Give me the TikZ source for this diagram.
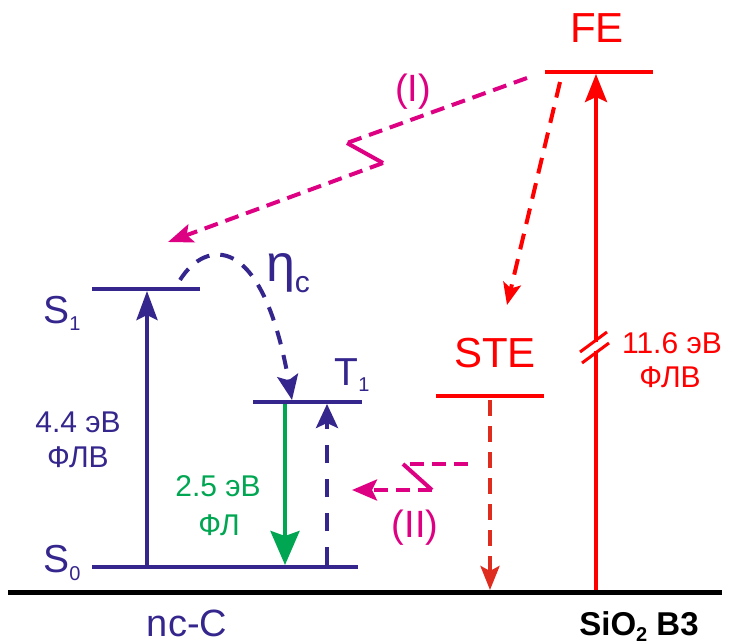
\documentclass[tikz,border=0pt]{standalone}
\usepackage{fontspec}
\setmainfont{Liberation Sans}
\usetikzlibrary{arrows.meta}
\definecolor{lvblue}{RGB}{52,38,140}
\definecolor{lvred}{RGB}{255,0,0}
\definecolor{stered}{RGB}{222,44,30}
\definecolor{trmag}{RGB}{222,0,130}
\definecolor{flgreen}{RGB}{0,166,81}
\newcommand{\fsz}[1]{\fontsize{#1}{#1}\selectfont}
\newcommand{\lvsub}[2]{\raisebox{-#2pt}{\fsz{20}#1}}
\tikzset{
  lvl/.style={line width=4.5pt},
  tr/.style={line width=4pt},
  tip/.style 2 args={-{Stealth[length=#1pt,width=#2pt,inset=5pt]}},
  dsh/.style={dash pattern=on 14pt off 8pt},
  txt/.style={inner sep=0pt, anchor=base},
}

\begin{document}
\begin{tikzpicture}[x=1pt,y=-1pt]
  \useasboundingbox (0,0) rectangle (733,644);

  % levels
  \coordinate (FEl) at (545,72);  \coordinate (FEr) at (653,72);
  \coordinate (STEl) at (436,396); \coordinate (STEr) at (544,396);
  \coordinate (S1l) at (92,289);  \coordinate (S1r) at (200,289);
  \coordinate (T1l) at (253,402); \coordinate (T1r) at (362,402);
  \coordinate (S0l) at (92,567);  \coordinate (S0r) at (358,567);
  \coordinate (gl) at (8,592);    \coordinate (gr) at (722,592);

  \draw[lvl,lvred] (FEl) -- (FEr);
  \draw[lvl,lvred] (STEl) -- (STEr);
  \draw[lvl,lvblue] (S1l) -- (S1r);
  \draw[lvl,lvblue] (T1l) -- (T1r);
  \draw[lvl,lvblue] (S0l) -- (S0r);
  \draw[line width=5pt] (gl) -- (gr);

  % labels
  \node[txt,lvred] (fe) at (597,43) {\fsz{42}FE};
  \node[txt,lvred] (ste) at (495,367) {\fsz{42}STE};
  \node[txt,lvred] (e116) at (672,353) {\fsz{30}11.6 эВ};
  \node[txt,lvred] (flv2) at (670,387) {\fsz{30}ФЛВ};
  \node[txt,lvblue] (s1) at (62,323) {\fsz{39}S\lvsub{1}{7}};
  \node[txt,lvblue] (s0) at (62,572) {\fsz{39}S\lvsub{0}{8}};
  \node[txt,lvblue] (t1) at (352,385) {\fsz{39}T\lvsub{1}{6}};
  \node[txt,lvblue] (e44) at (78,432) {\fsz{30}4.4 эВ};
  \node[txt,lvblue] (flv1) at (78,467) {\fsz{30}ФЛВ};
  \node[txt,flgreen] (e25) at (218,496) {\fsz{30}2.5 эВ};
  \node[txt,flgreen] (fl) at (219,535) {\fsz{30}ФЛ};
  \node[txt,trmag] (pI) at (413,102) {\fsz{38}(I)};
  \node[txt,trmag] (pII) at (415,537) {\fsz{38}(II)};
  \node[txt,lvblue] (eta) at (288,281) {\fsz{52}η\raisebox{-11pt}{\fsz{30}c}};
  \node[txt,lvblue] (ncc) at (187,636) {\fsz{38}nc-C};
  \node[txt] (sio) at (639,635) {\fsz{33}\bfseries SiO\lvsub{2}{6} B3};

  % transitions
  \coordinate (a1) at (147,567); \coordinate (b1) at (147,291);
  \draw[tr,lvblue,tip={29}{21}] (a1) -- (b1);
  \coordinate (a2) at (285,404); \coordinate (b2) at (285,565);
  \draw[tr,flgreen,tip={34}{29}] (a2) -- (b2);
  \coordinate (a3) at (327,565); \coordinate (b3) at (327,404);
  \draw[tr,lvblue,dash pattern=on 18pt off 16pt,tip={24}{22}] (a3) -- (b3);
  \coordinate (a4) at (180,280); \coordinate (b4) at (292,400);
  \draw[tr,lvblue,dash pattern=on 14pt off 11pt,tip={25}{21}] (a4) .. controls (205,240) and (262,230) .. (b4);

  \coordinate (a5) at (596,590); \coordinate (b5) at (596,74);
  \draw[tr,lvred,tip={28}{22}] (a5) -- (b5);
  \draw[white,line width=6pt] (596,342) -- (596,351);
  \draw[lvred,line width=3pt] (580,352) -- (607,332);
  \draw[lvred,line width=3pt] (582,363) -- (609,343);

  \coordinate (a6) at (560,82); \coordinate (b6) at (507,305);
  \draw[tr,lvred,dash pattern=on 16pt off 10pt,tip={22}{18}] (a6) -- (b6);
  \coordinate (a7) at (490,400); \coordinate (b7) at (490,590);
  \draw[tr,stered,dash pattern=on 16pt off 10pt,tip={24}{19}] (a7) -- (b7);

  % (I)
  \coordinate (i0) at (527,78); \coordinate (i1) at (347,143);
  \coordinate (i2) at (383,163); \coordinate (i3) at (168,242);
  \draw[tr,trmag,dsh] (i0) -- (i1);
  \draw[tr,trmag] (i1) -- (i2);
  \draw[tr,trmag,dsh,tip={25}{19}] (i2) -- (i3);

  % (II)
  \coordinate (j0) at (468,464); \coordinate (j1) at (403,464);
  \coordinate (j2) at (432,490); \coordinate (j3) at (352,490);
  \draw[tr,trmag,dsh] (j0) -- (j1);
  \draw[tr,trmag] (j1) -- (j2);
  \draw[tr,trmag,dsh,tip={25}{21}] (j2) -- (j3);
\end{tikzpicture}
\end{document}
